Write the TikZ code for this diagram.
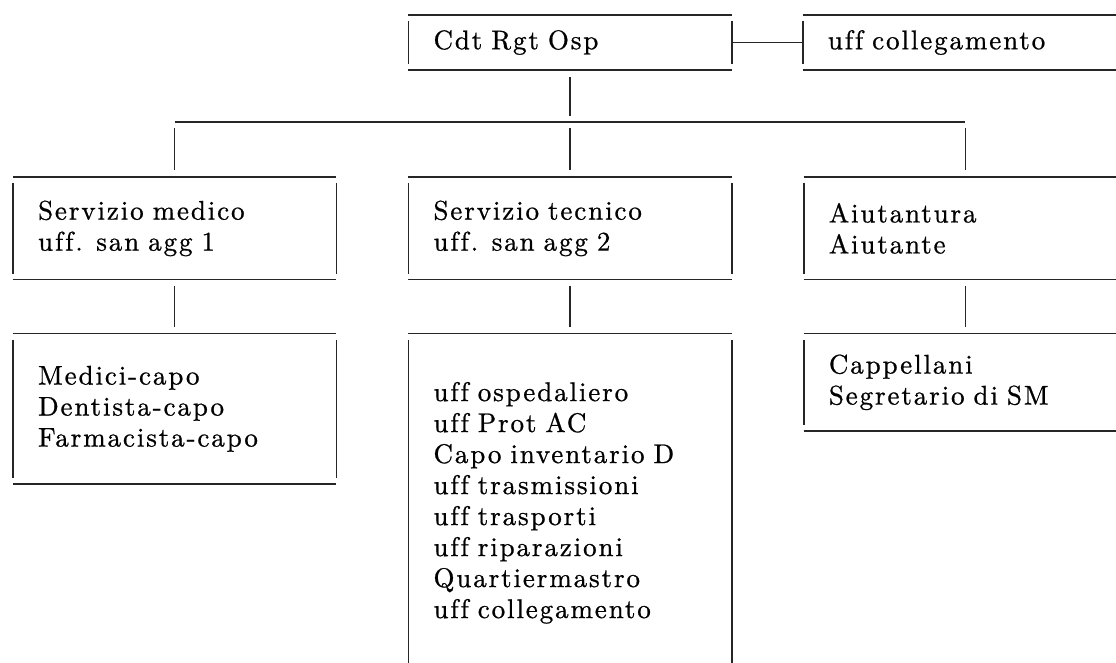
\documentclass[tikz,border=0pt]{standalone}
\usepackage{fontspec}
\setmainfont{lmroman10-regular.otf}[LetterSpace=7, Ligatures=NoCommon, FakeBold=0.8]
\usepackage{tikz}
\usetikzlibrary{positioning}
\tikzstyle{boxline} = [line width=1.6pt, draw=black!85]
\tikzstyle{orgbox} = [text width=273pt, inner xsep=25pt, inner ysep=0pt, align=left, font=\fontsize{27}{31}\selectfont,
    append after command={
    (\tikzlastnode.north west) edge[boxline] (\tikzlastnode.north east)
    (\tikzlastnode.south west) edge[boxline] (\tikzlastnode.south east)
    ([yshift=-6pt]\tikzlastnode.north west) edge[boxline] ([yshift=6pt]\tikzlastnode.south west)
    ([yshift=-6pt]\tikzlastnode.north east) edge[boxline] ([yshift=6pt]\tikzlastnode.south east)}]
\tikzstyle{link} = [boxline, shorten <=7pt, shorten >=7pt]

\begin{document}
\begin{tikzpicture}[x=1pt, y=1pt]
    \useasboundingbox (0,0) rectangle (1116,-663);
    \clip (0,0) rectangle (1116,-663);
    \node (cdt) [orgbox, minimum height=55pt] at (570,-42.5) {Cdt Rgt Osp};
    \node (liaison) [orgbox, minimum height=55pt, right=71pt of cdt] {uff collegamento};
    \node (tec) [orgbox, minimum height=102pt, below=107pt of cdt] {Servizio tecnico\\uff. san agg 2};
    \node (med) [orgbox, minimum height=102pt, left=72pt of tec] {Servizio medico\\uff. san agg 1};
    \node (aiu) [orgbox, minimum height=102pt, right=72pt of tec] {Aiutantura\\Aiutante};
    \node (medsub) [orgbox, minimum height=150pt, below=54pt of med] {Medici-capo\\Dentista-capo\\Farmacista-capo};
    \node (tecsub) [orgbox, minimum height=338pt, below=54pt of tec] {uff ospedaliero\\uff Prot AC\\Capo inventario D\\uff trasmissioni\\uff trasporti\\uff riparazioni\\Quartiermastro\\uff collegamento};
    \node (aiusub) [orgbox, minimum height=97pt, below=54pt of aiu] {Cappellani\\Segretario di SM};
    \coordinate (bus) at ([yshift=-52pt]cdt.south);
    \draw [link, shorten >=6pt] (cdt) -- (bus);
    \draw [boxline] (bus -| med) -- (bus -| aiu);
    \foreach \b in {med,tec,aiu}
        \draw [link, shorten <=6pt] (bus -| \b) -- (\b);
    \draw [link, shorten <=6pt] (med) -- (medsub);
    \draw [link, shorten <=6pt] (tec) -- (tecsub);
    \draw [link, shorten <=6pt] (aiu) -- (aiusub);
    \draw [boxline] (cdt.east) -- (liaison.west);
\end{tikzpicture}
\end{document}
